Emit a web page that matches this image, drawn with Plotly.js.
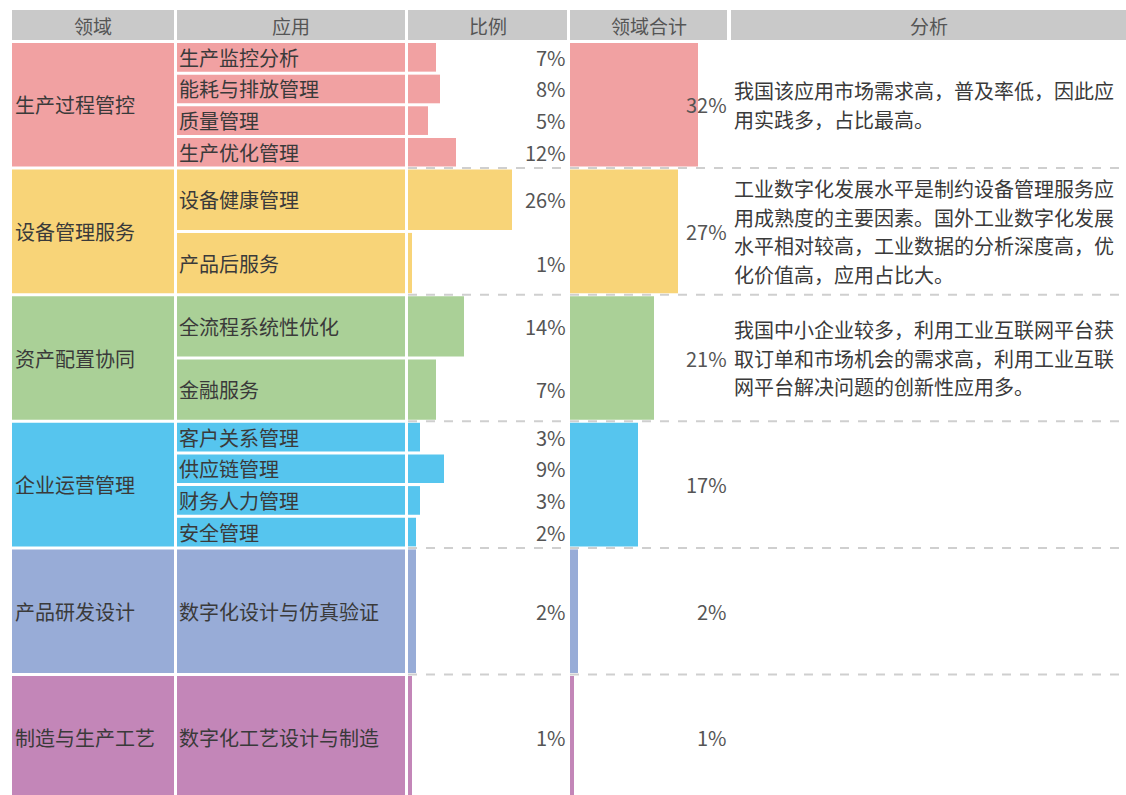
<!DOCTYPE html>
<html>
<head>
<meta charset="utf-8">
<script src="https://cdn.plot.ly/plotly-3.0.1.min.js"></script>
<style>html,body{margin:0;padding:0;background:#fff;}</style>
</head>
<body>
<div id="chart" style="width:1126px;height:795px;"></div>
<script>
// ---------------- data ----------------
const headers = ['领域', '应用', '比例', '领域合计', '分析'];
const domainNames = ['生产过程管控', '设备管理服务', '资产配置协同', '企业运营管理', '产品研发设计', '制造与生产工艺'];
const domainTotals = [32, 27, 21, 17, 2, 1];
const domainColors = ['#F1A1A2', '#F8D478', '#AAD097', '#56C5EE', '#98ACD7', '#C386B8'];
const appNames = ['生产监控分析', '能耗与排放管理', '质量管理', '生产优化管理',
                  '设备健康管理', '产品后服务',
                  '全流程系统性优化', '金融服务',
                  '客户关系管理', '供应链管理', '财务人力管理', '安全管理',
                  '数字化设计与仿真验证',
                  '数字化工艺设计与制造'];
const appShares = [7, 8, 5, 12, 26, 1, 14, 7, 3, 9, 3, 2, 2, 1];
const appDomain = [0, 0, 0, 0, 1, 1, 2, 2, 3, 3, 3, 3, 4, 5];
const analysisLines = [
  ['我国该应用市场需求高，普及率低，因此应', '用实践多，占比最高。'],
  ['工业数字化发展水平是制约设备管理服务应', '用成熟度的主要因素。国外工业数字化发展', '水平相对较高，工业数据的分析深度高，优', '化价值高，应用占比大。'],
  ['我国中小企业较多，利用工业互联网平台获', '取订单和市场机会的需求高，利用工业互联', '网平台解决问题的创新性应用多。'],
  [], [], []
];

// ---------------- layout constants (px) ----------------
const W = 1126, H = 795;
const cols = [[12, 174], [177, 405], [408, 567], [570, 727], [731, 1126]];
const headerTop = 10, headerBottom = 40, bodyTop = 43, pitch = 126.6, gapPx = 3;
const pxPerPct = 4;
const u = 1 / pitch;           // px -> row units
const gapU = gapPx * u;
const lineSpacing = 28.5 * u;
const cjk = '"Noto Sans CJK SC", "Noto Sans", sans-serif';
const textColor = '#3a3a3a';
const fs = 20;

// ---------------- derived positions ----------------
const groupCenters = domainNames.map((_, g) => g + (1 - gapU) / 2);
const groupCount = domainNames.map((_, g) => appDomain.filter(d => d === g).length);
const appCenters = [], appWidths = [];
appDomain.forEach((g, i) => {
  const n = groupCount[g];
  const k = appDomain.slice(0, i).filter(d => d === g).length;
  appCenters.push(g + (k + 0.5) / n - gapU / 2);
  appWidths.push(1 / n - gapU);
});
const appColors = appDomain.map(g => domainColors[g]);

const common = {type: 'bar', orientation: 'h', yaxis: 'y', hoverinfo: 'skip', marker: {line: {width: 0}}};
const traces = [
  Object.assign({}, common, {xaxis: 'x3', x: domainNames.map(() => 1), y: groupCenters, width: groupCenters.map(() => 1 - gapU), marker: {color: domainColors}}),
  Object.assign({}, common, {xaxis: 'x4', x: appNames.map(() => 1), y: appCenters, width: appWidths, marker: {color: appColors}}),
  Object.assign({}, common, {xaxis: 'x', x: appShares, y: appCenters, width: appWidths, marker: {color: appColors}}),
  Object.assign({}, common, {xaxis: 'x2', x: domainTotals, y: groupCenters, width: groupCenters.map(() => 1 - gapU), marker: {color: domainColors}})
];

const annotations = [];
const shapes = [];
const yHead0 = (headerTop - bodyTop) * u, yHead1 = (headerBottom - bodyTop) * u;
headers.forEach((h, i) => {
  shapes.push({type: 'rect', layer: 'below', xref: 'paper', yref: 'y', x0: cols[i][0] / W, x1: cols[i][1] / W, y0: yHead0, y1: yHead1, fillcolor: '#C9C9C9', line: {width: 0}});
  annotations.push({xref: 'paper', yref: 'y', x: (cols[i][0] + cols[i][1]) / 2 / W, y: (yHead0 + yHead1) / 2, text: h, showarrow: false, xanchor: 'center', yanchor: 'middle', font: {family: cjk, size: 19, color: '#555'}});
});
for (let g = 1; g < domainNames.length; g++) {
  shapes.push({type: 'line', layer: 'below', xref: 'paper', yref: 'y', x0: cols[2][0] / W, x1: 1, y0: g - gapU / 2, y1: g - gapU / 2, line: {color: '#CFCFCF', width: 2, dash: 'dash'}});
}
domainNames.forEach((d, g) => {
  annotations.push({xref: 'paper', yref: 'y', x: (cols[0][0] + 1) / W, y: groupCenters[g], text: d, showarrow: false, xanchor: 'left', yanchor: 'middle', font: {family: cjk, size: fs, color: textColor}});
  annotations.push({xref: 'paper', yref: 'y', x: (cols[3][1] + 2) / W, y: groupCenters[g], text: domainTotals[g] + '%', showarrow: false, xanchor: 'right', yanchor: 'middle', font: {family: cjk, size: fs, color: '#555'}});
  const L = analysisLines[g];
  L.forEach((line, j) => {
    annotations.push({xref: 'paper', yref: 'y', x: (cols[4][0] + 1) / W, y: groupCenters[g] + (j - (L.length - 1) / 2) * lineSpacing, text: line, showarrow: false, xanchor: 'left', yanchor: 'middle', font: {family: cjk, size: fs, color: textColor}});
  });
});
appNames.forEach((a, i) => {
  annotations.push({xref: 'paper', yref: 'y', x: (cols[1][0]) / W, y: appCenters[i], text: a, showarrow: false, xanchor: 'left', yanchor: 'middle', font: {family: cjk, size: fs, color: textColor}});
  annotations.push({xref: 'paper', yref: 'y', x: (cols[2][1] + 1) / W, y: appCenters[i], text: appShares[i] + '%', showarrow: false, xanchor: 'right', yanchor: 'middle', font: {family: cjk, size: fs, color: '#555'}});
});

const hiddenX = (c, maxPct) => ({domain: [c[0] / W, c[1] / W], range: [0, maxPct], visible: false, fixedrange: true, anchor: 'y'});
const layout = {
  width: W, height: H,
  margin: {l: 0, r: 0, t: 0, b: 0, pad: 0},
  paper_bgcolor: '#FFFFFF', plot_bgcolor: 'rgba(0,0,0,0)',
  showlegend: false, barmode: 'overlay',
  xaxis: hiddenX(cols[2], (cols[2][1] - cols[2][0]) / pxPerPct),
  xaxis2: hiddenX(cols[3], (cols[3][1] - cols[3][0]) / pxPerPct),
  xaxis3: hiddenX(cols[0], 1),
  xaxis4: hiddenX(cols[1], 1),
  yaxis: {domain: [0, 1], range: [(H - bodyTop) * u, -bodyTop * u], visible: false, fixedrange: true, anchor: 'x'},
  shapes: shapes,
  annotations: annotations
};
Plotly.newPlot('chart', traces, layout, {displayModeBar: false, staticPlot: true});
</script>
</body>
</html>
